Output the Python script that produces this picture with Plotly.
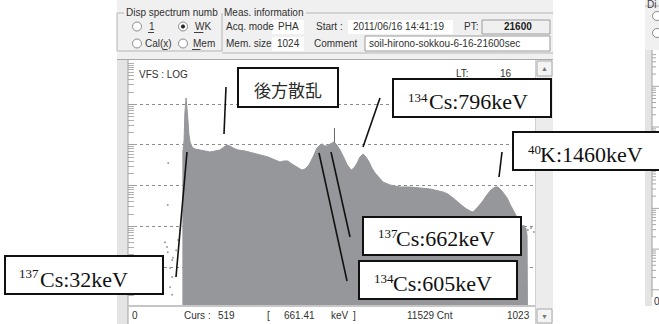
import math
import numpy as np
import plotly.graph_objects as go

# ---- gamma-ray spectrum (channel number, counts per channel) ----
channels = [138, 141, 143, 146, 148, 151, 153, 156, 161, 168,
            181, 194, 206, 219, 231, 241, 249, 256, 264, 277,
            294, 314, 332, 352, 370, 382, 392, 402, 412, 425,
            437, 445, 455, 465, 475, 483, 488, 495, 500, 508,
            518, 525, 533, 543, 551, 561, 568, 576, 583, 591,
            598, 606, 613, 621, 631, 641, 659, 684, 709, 734,
            759, 792, 804, 817, 832, 847, 860, 867, 877, 890,
            902, 912, 923, 930, 940, 953, 960, 968, 978, 988,
            1000, 1003]
counts = [6730, 13270, 61100, 142900, 90800, 36700, 18620, 11860, 8930, 7980,
          7530, 7130, 6730, 7130, 7530, 8930, 10000, 9440, 8430, 7530,
          7130, 6350, 5680, 5070, 4280, 3820, 4050, 4050, 3410, 2880,
          2430, 2570, 3230, 5070, 8430, 10000, 10590, 9440, 9440, 10590,
          11860, 10000, 7530, 4800, 3230, 2430, 2720, 3610, 5070, 6010,
          5070, 3820, 2720, 2050, 1545, 1233, 1040, 929, 929, 877,
          830, 700, 625, 499, 376, 283, 239, 226, 283, 398,
          590, 783, 929, 929, 741, 499, 355, 253, 170, 108,
          91, 60]

# sparse channels below the threshold and past the end of the spectrum
low_channels = [93, 98, 100, 100, 101, 106, 106, 111, 111, 111, 113, 121, 126, 131]
low_counts = [41, 31, 23, 336, 3610, 9.5, 3.2, 15, 5.7, 2.1, 17, 26, 46, 82]
tail_channels = [995, 1005, 1013, 1020]
tail_counts = [102, 82, 91, 73]

# ---- measurement information ----
cursor_channel = 519
cursor_energy_kev = 661.41
cursor_count = 11529
mem_size = 1024
live_time = 16
preset_time = 21600
start_time = "2011/06/16 14:41:19"
comment = "soil-hirono-sokkou-6-16-21600sec"
acq_mode = "PHA"

# peak labels: (mass number, element, energy in keV)
peak_isotopes = [("137", "Cs", 32), ("134", "Cs", 605), ("137", "Cs", 662),
                 ("134", "Cs", 796), ("40", "K", 1460)]
backscatter_label = "後方散乱"

# ---- figure geometry (pixels) ----
W, H = 659, 324
PL, PR, PT, PB = 128, 535, 60, 305
UI = "Liberation Sans, Arial, sans-serif"
SERIF = "Liberation Serif, Times New Roman, serif"
CJK = "Noto Sans CJK JP, sans-serif"
GRAY = "#96979b"


def px(x):
    return (x - PL) / (PR - PL)


def py(y):
    return (PB - y) / (PB - PT)


shapes = []
annotations = []


def rect(x0, y0, x1, y1, fill=None, color=None, width=1):
    shapes.append(dict(type="rect", xref="paper", yref="paper",
                       x0=px(x0), x1=px(x1), y0=py(y1), y1=py(y0),
                       fillcolor=fill or "rgba(0,0,0,0)",
                       line=dict(color=color or "rgba(0,0,0,0)",
                                 width=width if color else 0),
                       layer="above"))


def seg(x0, y0, x1, y1, color, width=1):
    shapes.append(dict(type="line", xref="paper", yref="paper",
                       x0=px(x0), y0=py(y0), x1=px(x1), y1=py(y1),
                       line=dict(color=color, width=width), layer="above"))


def circ(cx, cy, r, fill="white", color="#8a8a8a"):
    shapes.append(dict(type="circle", xref="paper", yref="paper",
                       x0=px(cx - r), x1=px(cx + r), y0=py(cy + r), y1=py(cy - r),
                       fillcolor=fill, line=dict(color=color, width=1), layer="above"))


def label(x, y, s, size=10, anchor="left", family=UI, color="#303030", weight="normal"):
    annotations.append(dict(xref="paper", yref="paper", x=px(x), y=py(y), text=s,
                            showarrow=False, xanchor=anchor, yanchor="middle",
                            borderpad=0,
                            font=dict(family=family, size=size, color=color, weight=weight)))


fig = go.Figure()

# spectrum as a filled area
fig.add_trace(go.Scatter(
    x=[channels[0]] + channels + [channels[-1] + 1],
    y=[1] + counts + [1],
    mode="lines", fill="toself", fillcolor=GRAY,
    line=dict(color=GRAY, width=1), hoverinfo="skip"))

# isolated counts
fig.add_trace(go.Scatter(
    x=low_channels + tail_channels, y=low_counts + tail_counts,
    mode="markers", marker=dict(size=2, color="#9c9c9c"), hoverinfo="skip"))

# cursor mark above the spectrum
cursor_base = 10 ** np.interp(cursor_channel, channels, np.log10(counts))
fig.add_trace(go.Scatter(
    x=[cursor_channel, cursor_channel], y=[cursor_base, 26000],
    mode="lines", line=dict(color="#666666", width=1), hoverinfo="skip"))

# ---- window chrome ----
rect(117, 0, 553, 59, fill="#f0f0f0")
rect(117, 59, 128, 324, fill="#e4e4e4")
rect(536, 60, 553, 324, fill="#ececec")
rect(128, 306, 536, 324, fill="white")
seg(117, 59.5, 553, 59.5, "#a8a8a8")
seg(128, 60, 128, 324, "#a0a0a0")
seg(128, 306, 536, 306, "#c6c6c6", 2)
seg(535.5, 60, 535.5, 324, "#d0d0d0")

# scrollbar buttons
rect(537, 61, 552, 76, fill="#f4f4f4", color="#a8a8a8")
rect(537, 309, 552, 323, fill="#f4f4f4", color="#a8a8a8")
label(544.5, 68.5, "▲", size=7, anchor="center", color="#777777")
label(544.5, 316, "▼", size=7, anchor="center", color="#777777")

# group boxes
FR = "#b5b5b5"
seg(117, 13, 124, 13, FR)
seg(117, 13, 117, 51, FR)
seg(117, 51, 222, 51, FR)
seg(222, 13, 222, 51, FR)
seg(306, 13, 553, 13, FR)
seg(222, 53, 553, 53, FR)
label(125, 12.5, "Disp spectrum numb")
label(223, 12.5, "Meas. information")

# radio buttons with underlined access keys
circ(137, 26.5, 4.5)
circ(183, 26.5, 4.5)
circ(183, 26.5, 1.6, fill="#202020", color="#202020")
circ(137, 43.5, 4.5)
circ(183, 43.5, 4.5)
label(148, 26.5, "1")
label(194, 26.5, "WK")
label(144, 43.5, "Cal(x)")
label(192, 43.5, "Mem")
UL = "#404040"
seg(148, 32.5, 154, 32.5, UL)
seg(194, 32.5, 203.5, 32.5, UL)
seg(162.5, 49.5, 167.5, 49.5, UL)
seg(192, 49.5, 200.5, 49.5, UL)

# measurement fields
label(225, 27, "Acq. mode")
rect(272, 20, 304, 34, fill="white")
label(288, 27, acq_mode, anchor="center")
label(225, 43.5, "Mem. size")
rect(272, 37, 304, 51, fill="white")
label(288, 43.5, str(mem_size), anchor="center")
label(344, 27, "Start :", anchor="right")
rect(348, 20, 453, 34, fill="white")
label(352, 27, start_time)
label(463, 27, "PT:")
rect(482, 20, 550, 34, fill="#f0f0f0", color="#9a9a9a")
label(533, 27, str(preset_time), anchor="right", color="#202020", weight="bold")
label(359, 43.5, "Comment", anchor="right")
rect(365, 36, 550, 51, fill="white", color="#9a9a9a")
label(368, 43.5, comment)

# in-plot texts
label(138, 74, "VFS : LOG")
label(455, 73, "LT:")
label(513, 73, str(live_time), anchor="right")

# status row
label(131, 315, "0")
label(183, 315, "Curs :")
label(217, 315, str(cursor_channel))
label(266, 315, "[")
label(283, 315, f"{cursor_energy_kev:.2f}")
label(330, 315, "keV")
label(352, 315, "]")
label(406, 315, f"{cursor_count} Cnt")
label(531, 315, str(mem_size - 1), anchor="right")

# neighbouring window at the right edge
rect(645, 0, 659, 50, fill="#f0f0f0")
rect(645, 50, 652, 306, fill="#e4e4e4")
seg(652, 50, 652, 297, "#a0a0a0")
seg(645, 6, 659, 6, FR)
label(646, 5, "Di", color="#404040")
circ(657, 16, 4.5)
circ(657, 33, 4.5)
for k in range(0, 7):
    for m in range(1, 10):
        yy = 289.8 - 40.7 * (k + math.log10(m))
        if 52 < yy < 296:
            seg(652, yy, 659 if m == 1 else 656, yy, "#a8a8a8")
label(653, 301, "0")

# ---- peak label boxes with leader lines ----
boxes = [
    # box (x0, y0, x1, y1), mass-number left/centre-y, symbol left/centre-y, leader line
    ((5, 256, 163, 294), (18, 273), (39, 279), (187, 152, 176, 277)),
    ((359, 261, 517, 299), (373, 278), (392, 283.5), (319, 153, 347, 281)),
    ((363, 217, 521, 255), (377, 233), (395, 238.5), (331, 152, 350, 237)),
    ((393, 79, 551, 117), (407, 97.5), (428, 102), (380, 98, 363, 147)),
    ((513, 132, 662, 170), (527, 149.5), (539, 154.5), (502, 152, 499, 177)),
]
for (mass, elem, e), (b, sup_pos, main_pos, ln) in zip(peak_isotopes, boxes):
    seg(*ln, "#111111", 1.6)
    rect(*b, fill="white", color="#111111", width=2)
    label(sup_pos[0], sup_pos[1], mass, size=13, family=SERIF, color="#111111")
    label(main_pos[0], main_pos[1], f"{elem}:{e}keV", size=22, family=SERIF, color="#111111")

seg(226, 87, 224, 134, "#111111", 1.6)
rect(238, 68, 338, 107, fill="white", color="#111111", width=2)
label(288, 89, backscatter_label, size=17, anchor="center", family=CJK, color="#2a2a2a")

minor_vals = [m * 10 ** k for k in range(0, 7) for m in range(2, 10)] + [1, 1e6]

fig.update_layout(
    width=W, height=H,
    margin=dict(l=PL, r=W - PR, t=PT, b=H - PB, pad=0),
    paper_bgcolor="white", plot_bgcolor="white",
    showlegend=False,
    xaxis=dict(range=[0, mem_size - 1], showgrid=False, showticklabels=False,
               zeroline=False, showline=False, ticks=""),
    yaxis=dict(type="log", range=[0.0688, 6.088],
               tickvals=[1e1, 1e2, 1e3, 1e4, 1e5], showticklabels=False,
               ticks="inside", ticklen=9, tickcolor="#a0a0a0", tickwidth=1,
               showgrid=True, gridcolor="#8c8c8c", griddash="3px,3px", gridwidth=1,
               zeroline=False, showline=False,
               minor=dict(tickvals=minor_vals, ticks="inside", ticklen=6,
                          tickcolor="#b0b0b0", tickwidth=1, showgrid=False)),
    shapes=shapes, annotations=annotations,
)

fig.write_html("out.html")
